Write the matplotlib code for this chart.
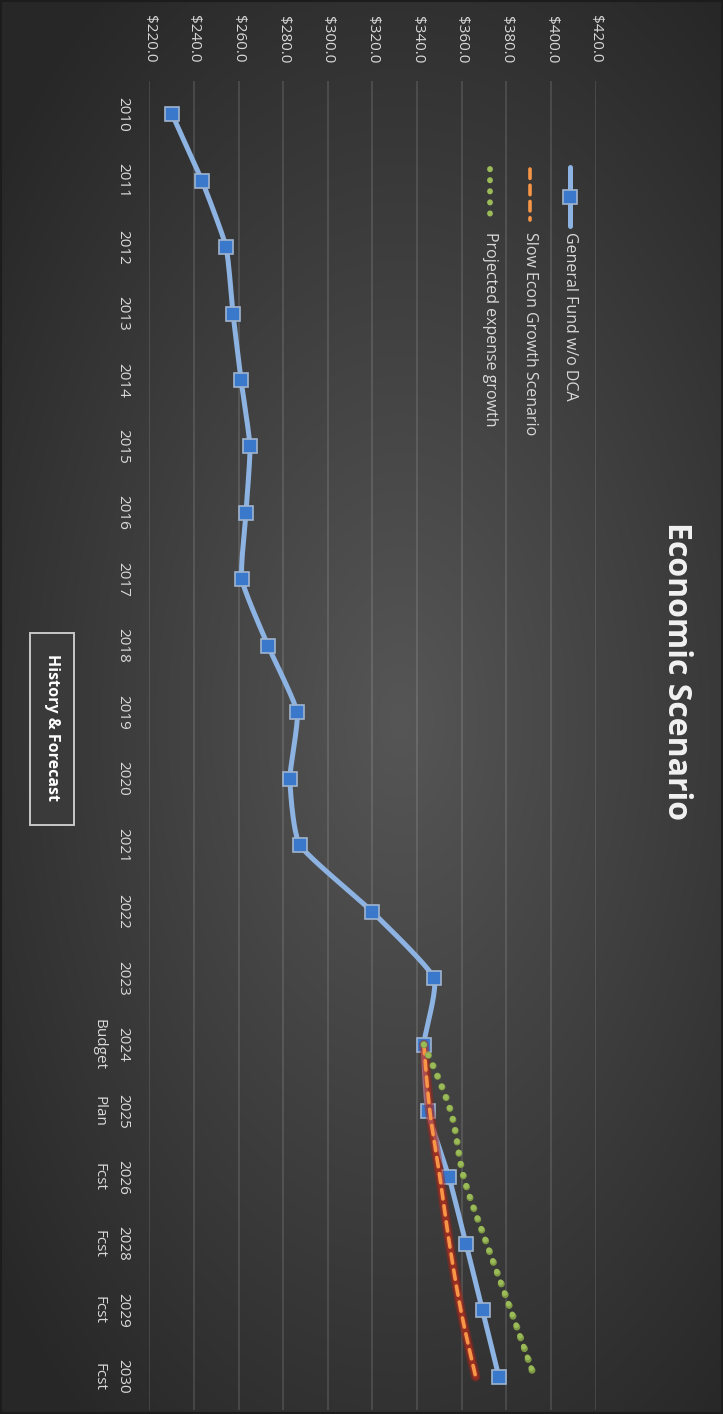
import numpy as np
import matplotlib
matplotlib.use("Agg")
import matplotlib.pyplot as plt
from matplotlib.lines import Line2D
from matplotlib.patches import Rectangle

plt.rcParams['font.family'] = ['Open Sans', 'DejaVu Sans']

# ---------------- data ----------------
categories = ['2010', '2011', '2012', '2013', '2014', '2015', '2016', '2017',
              '2018', '2019', '2020', '2021', '2022', '2023',
              '2024\nBudget', '2025\nPlan', '2026\nFcst', '2028\nFcst',
              '2029\nFcst', '2030\nFcst']
general_fund = [230.2, 243.6, 254.4, 257.5, 261.1, 265.1, 263.3, 261.5,
                273.2, 286.2, 283.0, 287.5, 319.8, 347.5,
                343.0, 344.8, 354.3, 361.9, 369.3, 376.6]
slow_start = 14
slow_econ = [343.0, 345.7, 350.2, 354.5, 359.6, 366.2]
proj_start = 14
proj_expense = [343.0, 355.0, 360.9, 371.2, 382.0, 392.5]
value_ticks = [220, 240, 260, 280, 300, 320, 340, 360, 380, 400, 420]
value_labels = ['$%.1f' % v for v in value_ticks]

title = 'Economic Scenario'
axis_title = 'History & Forecast'
legend_labels = ['General Fund w/o DCA', 'Slow Econ Growth Scenario',
                 'Projected expense growth']

# ---------------- figure ----------------
W, H = 723, 1414
fig = plt.figure(figsize=(W / 100, H / 100), dpi=100)

# radial gradient background
bg = fig.add_axes([0, 0, 1, 1], zorder=-10)
yy, xx = np.mgrid[0:H, 0:W]
cx, cy = 400, 720
r = np.sqrt(((xx - cx) / 520.0) ** 2 + ((yy - cy) / 900.0) ** 2)
r = np.clip(r, 0, 1)
c_in = np.array([0x56, 0x56, 0x56]) / 255.0
c_out = np.array([0x27, 0x27, 0x27]) / 255.0
img = c_in[None, None, :] * (1 - r[..., None]) + c_out[None, None, :] * r[..., None]
bg.imshow(img, aspect='auto', extent=[0, W, H, 0])
bg.set_xlim(0, W)
bg.set_ylim(H, 0)
bg.axis('off')


def fx(px):
    return px / W


def fy(py):
    return 1 - py / H


# main axes (rotated layout: values horizontal, categories vertical)
left, right = 149.3, 595.7
top, bottom = 81, 1410
ax = fig.add_axes([fx(left), fy(bottom), (right - left) / W, (bottom - top) / H])
ax.set_facecolor('none')
ax.set_xlim(220, 420)
n = len(categories)
ax.set_ylim(n - 0.5, -0.5)
for s in ax.spines.values():
    s.set_visible(False)
ax.grid(axis='x', color='white', alpha=0.14, lw=1.2)
ax.set_axisbelow(True)

ax.xaxis.tick_top()
ax.set_xticks(value_ticks)
ax.set_xticklabels(value_labels, rotation=-90, ha='center', va='bottom',
                   color='#d9d9d9', fontsize=11)
ax.tick_params(axis='x', length=0, pad=13)
ax.set_yticks(range(n))
ax.set_yticklabels(categories, rotation=-90, ha='right', va='center',
                   multialignment='center', color='#d9d9d9', fontsize=11,
                   linespacing=1.75)
ax.tick_params(axis='y', length=0, pad=14)

sx, sy = 66.45, 2.2325


def smooth(idx, vals, npts=24, k=12.0):
    P = np.column_stack([np.asarray(idx, float) * sx, np.asarray(vals, float) * sy])
    out = []
    for i in range(len(P) - 1):
        p0 = P[i - 1] if i > 0 else P[i]
        p1, p2 = P[i], P[i + 1]
        p3 = P[i + 2] if i + 2 < len(P) else P[i + 1]
        c1 = p1 + (p2 - p0) / k
        c2 = p2 - (p3 - p1) / k
        t = np.linspace(0, 1, npts)[:, None]
        seg = ((1 - t) ** 3) * p1 + 3 * ((1 - t) ** 2) * t * c1 + 3 * (1 - t) * t ** 2 * c2 + t ** 3 * p2
        out.append(seg if i == 0 else seg[1:])
    S = np.vstack(out)
    return S[:, 0] / sx, S[:, 1] / sy


blue_line = '#8db3e2'
idx_g = np.arange(n)
gi, gv = smooth(idx_g, general_fund)
ax.plot(gv, gi, color=blue_line, lw=3.6, solid_capstyle='round', zorder=3)
ax.plot(general_fund, idx_g, ls='none', marker='s', ms=9.5,
        mfc='#3a78cc', mec='#9fb4cf', mew=1.2, zorder=4)

idx_s = np.arange(slow_start, slow_start + len(slow_econ))
si, sv = smooth(idx_s, slow_econ, k=6.0)
ax.plot(sv, si, color='#a02418', lw=7, alpha=0.45, solid_capstyle='round', zorder=5)
ax.plot(sv, si, color='#c0301f', lw=4.5, alpha=0.55, solid_capstyle='round', zorder=5)
ax.plot(sv, si, color='#f79646', lw=2.6, ls=(0, (2.6, 1.9)), dash_capstyle='round', zorder=6)

idx_p = np.arange(proj_start, proj_start + len(proj_expense))
pi_, pv = smooth(idx_p, proj_expense, k=6.0)
ax.plot(pv, pi_, color='#7f9a45', lw=5.0, ls=(0, (0.05, 1.6)),
        dash_capstyle='round', zorder=6)
ax.plot(pv, pi_, color='#9bbb59', lw=4.0, ls=(0, (0.05, 2.0)),
        dash_capstyle='round', zorder=7)

# ---------------- title ----------------
fig.text(fx(676), fy(671), title, rotation=-90, ha='center', va='center',
         color='#f2f2f2', fontsize=23, fontweight='bold')

# ---------------- axis title box ----------------
fig.add_artist(Rectangle((fx(30), fy(825)), (74 - 30) / W, (825 - 633) / H,
                         transform=fig.transFigure, fc='#3a3a3a', ec='#c8c8c8', lw=1.4))
fig.text(fx(52), fy(727), axis_title, rotation=-90, ha='center', va='center',
         color='white', fontsize=11.5, fontweight='bold')

# ---------------- legend (manual, rotated) ----------------
legend_x = [570, 530, 490]
y0, y1 = 167, 226
fig.add_artist(Line2D([fx(legend_x[0])] * 2, [fy(y0), fy(y1)], transform=fig.transFigure,
                      color=blue_line, lw=3.6, solid_capstyle='round'))
fig.add_artist(Line2D([fx(legend_x[0])], [fy((y0 + y1) / 2)], transform=fig.transFigure,
                      ls='none', marker='s', ms=9.5, mfc='#3a78cc', mec='#9fb4cf', mew=1.2))
fig.add_artist(Line2D([fx(legend_x[1])] * 2, [fy(y0 + 2), fy(y1 - 6)], transform=fig.transFigure,
                      color='#f79646', lw=2.6, ls=(0, (2.6, 1.9)), dash_capstyle='round'))
fig.add_artist(Line2D([fx(legend_x[2])] * 2, [fy(y0 + 2), fy(y1 - 6)], transform=fig.transFigure,
                      color='#9bbb59', lw=4.2, ls=(0, (0.05, 1.85)), dash_capstyle='round'))
for xpx, lab in zip(legend_x, legend_labels):
    fig.text(fx(xpx), fy(232), lab, rotation=-90, ha='center', va='top',
             color='#d9d9d9', fontsize=11.5)

# outer border
fig.add_artist(Rectangle((0, 0), 1, 1, transform=fig.transFigure, fill=False,
                         ec='#1c1c1c', lw=3))

fig.savefig('out.png', dpi=100)
